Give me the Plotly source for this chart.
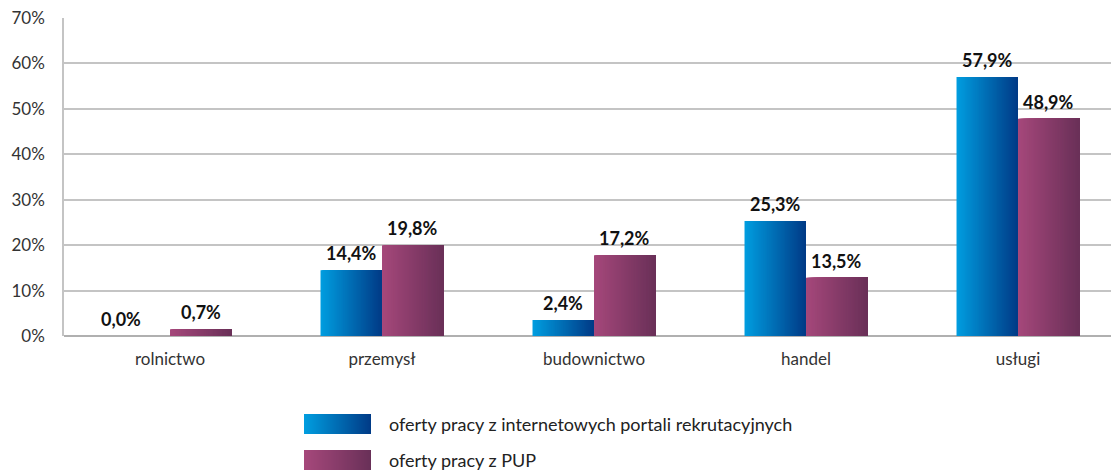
import plotly.graph_objects as go

# ---- data ----
categories = ["rolnictwo", "przemysł", "budownictwo", "handel", "usługi"]
portal_values = [0.0, 14.5, 3.5, 25.3, 57.0]        # bar heights as drawn
pup_values = [1.5, 20.0, 17.8, 12.8, 47.8]           # bar heights as drawn
portal_labels = ["0,0%", "14,4%", "2,4%", "25,3%", "57,9%"]
pup_labels = ["0,7%", "19,8%", "17,2%", "13,5%", "48,9%"]
series_names = ["oferty pracy z internetowych portali rekrutacyjnych", "oferty pracy z PUP"]
y_ticks = [0, 10, 20, 30, 40, 50, 60, 70]

# ---- style ----
W, H = 1111, 475
ML, MT, MB, MR = 64, 18, 139, 0
BW = 0.29          # bar width in category units
N = 60             # gradient slices per bar
blue_grad = ((0x00, 0x9E, 0xE0), (0x00, 0x3A, 0x86))
pup_grad = ((0xA6, 0x48, 0x7B), (0x69, 0x30, 0x58))
FONT = "Lato"


def lerp(c0, c1, t):
    return "rgb(%d,%d,%d)" % tuple(round(a + (b - a) * t) for a, b in zip(c0, c1))


fig = go.Figure()
for values, grad, base in ((portal_values, blue_grad, -BW), (pup_values, pup_grad, 0.0)):
    step = BW / N
    for i in range(N):
        t = (i + 0.5) / N
        # each slice runs from its start to the bar's right edge; later slices cover earlier ones
        fig.add_trace(go.Bar(
            x=categories, y=values,
            width=BW - i * step,
            offset=base + i * step,
            marker=dict(color=lerp(grad[0], grad[1], t), line=dict(width=0)),
            showlegend=False, hoverinfo="skip",
        ))

# value labels
px_per_cat = (W - ML + 13) / 5.0
label_nudge = {(0, 0): -18}
for s, (values, labels) in enumerate(((portal_values, portal_labels), (pup_values, pup_labels))):
    for j, (cat, v, lab) in enumerate(zip(categories, values, labels)):
        xs = (-BW / 2 if s == 0 else BW / 2) * px_per_cat + label_nudge.get((s, j), 0)
        fig.add_annotation(
            x=cat, y=v, text="<b>%s</b>" % lab, showarrow=False,
            xanchor="center", yanchor="bottom", xshift=xs, yshift=4,
            font=dict(family=FONT, size=18, color="#111111"),
        )

# custom legend with gradient swatches
plot_w = W - ML - MR
plot_h = H - MT - MB


def fx(px):
    return (px - ML) / plot_w


def fy(py):
    return (H - MB - py) / plot_h


for k, (name, grad, y0, y1) in enumerate(((series_names[0], blue_grad, 414, 434),
                                          (series_names[1], pup_grad, 450, 470))):
    x0, x1 = 304, 371
    n = 67
    for i in range(n):
        a = x0 + (x1 - x0) * i / n
        fig.add_shape(type="rect", xref="paper", yref="paper",
                      x0=fx(a), x1=fx(x1), y0=fy(y1), y1=fy(y0),
                      fillcolor=lerp(grad[0], grad[1], (i + 0.5) / n),
                      line=dict(width=0), layer="above")
    fig.add_annotation(xref="paper", yref="paper", x=fx(387), y=fy((y0 + y1) / 2),
                       text=name, showarrow=False, xanchor="left", yanchor="middle",
                       font=dict(family=FONT, size=18, color="#222222"))

fig.update_layout(
    width=W, height=H,
    margin=dict(l=ML, r=MR, t=MT, b=MB, pad=0),
    barmode="overlay",
    plot_bgcolor="white", paper_bgcolor="white",
    font=dict(family=FONT, size=16, color="#333333"),
    showlegend=False,
    xaxis=dict(
        type="category", range=[-0.5, 4.5 - 13 / px_per_cat],
        showgrid=False, showline=False, ticks="", zeroline=False,
        tickfont=dict(family=FONT, size=17, color="#333333"), ticklabelstandoff=11,
    ),
    yaxis=dict(
        range=[0, 70], tickvals=y_ticks, ticktext=["%d%%" % v for v in y_ticks],
        showgrid=True, gridcolor="#c4c4c4", gridwidth=1.5,
        showline=True, linecolor="#c4c4c4", linewidth=1.5,
        zeroline=True, zerolinecolor="#b0b0b0", zerolinewidth=1.5,
        ticks="", ticklabelstandoff=14,
        tickfont=dict(family=FONT, size=17, color="#333333"),
    ),
)

fig.write_html(
    "out.html",
    config={"displayModeBar": False},
    post_script="document.body.style.margin='0';document.body.style.overflow='hidden';",
)
